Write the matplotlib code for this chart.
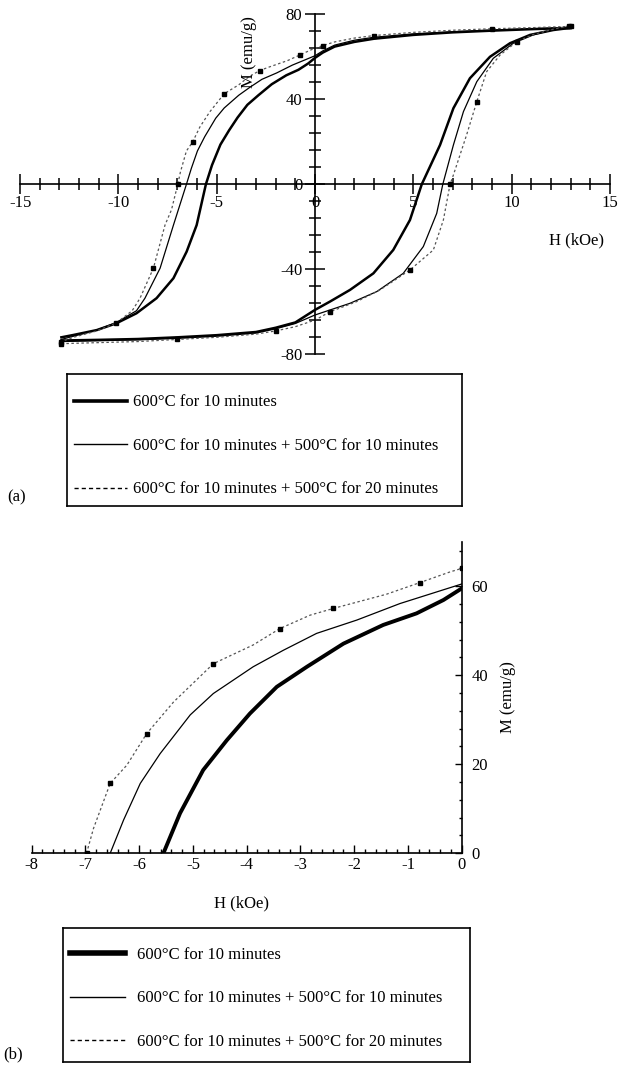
import matplotlib
matplotlib.use("Agg")
import matplotlib.pyplot as plt
from matplotlib.lines import Line2D
from matplotlib.ticker import MultipleLocator

plt.rcParams["font.family"] = "serif"
plt.rcParams["font.serif"] = ["Liberation Serif", "DejaVu Serif"]
plt.rcParams["axes.unicode_minus"] = False

LABELS = [
    "600°C for 10 minutes",
    "600°C for 10 minutes + 500°C for 10 minutes",
    "600°C for 10 minutes + 500°C for 20 minutes",
]

# ---- second quadrant of the descending branch (also panel b), H in kOe, M in emu/g
thick_b_H = [-5.55, -5.24, -4.81, -4.37, -3.94, -3.44, -2.88, -2.20, -1.46, -0.84, -0.34, 0.0]
thick_b_M = [0.0, 9.0, 18.7, 25.4, 31.4, 37.4, 41.9, 47.1, 51.3, 53.9, 56.9, 59.5]
thin_b_H = [-6.54, -6.29, -5.98, -5.61, -5.05, -4.62, -3.88, -3.32, -2.70, -1.95, -1.15, -0.47, 0.0]
thin_b_M = [0.0, 7.5, 15.7, 22.4, 31.1, 35.9, 41.9, 45.6, 49.4, 52.4, 56.1, 58.7, 60.5]
dot_b_H = [-6.98, -6.85, -6.54, -6.23, -5.86, -5.36, -4.62, -3.88, -3.38, -2.82, -2.39, -1.40, -0.78, -0.22, 0.0]
dot_b_M = [0.0, 5.6, 15.7, 19.8, 26.9, 34.0, 42.6, 46.8, 50.5, 53.5, 55.0, 58.2, 60.8, 63.2, 64.0]

# ---- descending branch, H > 0 part
thick_dpos_H = [13, 12, 11, 9, 7, 5, 3, 2, 1, 0.4]
thick_dpos_M = [73.5, 73.3, 73.0, 72.3, 71.5, 70.3, 68.5, 67.0, 64.8, 62.0]
thin_dpos_H = [13, 12, 11, 9, 7, 5, 3, 2, 1, 0.4]
thin_dpos_M = [73.8, 73.5, 73.2, 72.6, 71.8, 70.8, 69.2, 67.8, 65.5, 62.8]
dot_dpos_H = [13, 12, 11, 9, 7, 5, 3, 2, 1, 0.4]
dot_dpos_M = [74.3, 74.0, 73.7, 73.2, 72.5, 71.5, 70.0, 68.8, 67.0, 65.3]

# ---- descending branch, M < 0 part
thick_dneg_H = [-6.02, -6.53, -7.20, -8.06, -9.08, -10.10, -11.10, -12.29, -12.9]
thick_dneg_M = [-19.2, -31.7, -44.2, -53.6, -60.7, -65.4, -68.6, -70.9, -72.0]
thin_dneg_H = [-7.20, -7.88, -8.65, -9.08, -10.10, -11.10, -12.29, -12.9]
thin_dneg_M = [-19.2, -39.5, -53.6, -59.5, -65.0, -68.6, -71.5, -73.0]
dot_dneg_H = [-7.30, -7.63, -8.22, -8.90, -9.30, -10.10, -11.10, -12.29, -12.9]
dot_dneg_M = [-12.0, -19.2, -39.5, -53.6, -59.5, -65.2, -69.0, -72.0, -74.0]

# ---- ascending branch
thick_up_H = [-12.9, -11, -9, -7, -5, -3, -2, -1, 0, 0.76, 1.78, 2.97, 3.98, 4.83, 5.43,
              6.36, 7.04, 7.88, 8.90, 9.92, 10.94, 12.12, 12.9]
thick_up_M = [-73.5, -73.2, -72.8, -72.0, -71.0, -69.5, -67.5, -65.0, -59.1, -55.2, -49.7,
              -41.9, -30.9, -16.8, 0.0, 18.5, 35.8, 49.9, 60.0, 66.4, 70.3, 72.6, 73.5]
thin_up_H = [-12.9, -11, -9, -7, -5, -3, -2, -1, 0, 1.78, 3.14, 4.49, 5.51, 6.19, 6.50,
             7.04, 7.55, 8.23, 9.07, 10.09, 11.10, 12.12, 12.9]
thin_up_M = [-74.0, -73.6, -73.2, -72.5, -71.5, -70.0, -68.0, -65.5, -61.5, -56.0, -50.5,
             -41.9, -29.3, -13.7, 0.0, 18.5, 34.2, 48.3, 59.3, 66.4, 70.3, 72.8, 73.8]
dot_up_H = [-12.9, -11, -9, -7, -5, -3, -2, -1, 0, 0.76, 2.12, 3.31, 4.83, 6.02, 6.53,
            6.87, 7.04, 7.71, 8.23, 8.73, 9.41, 10.26, 11.10, 12.12, 12.9]
dot_up_M = [-75.0, -74.5, -74.0, -73.0, -72.0, -70.5, -69.0, -67.0, -63.9, -60.0, -55.2,
            -49.7, -40.3, -30.9, -16.8, 0.0, 4.4, 23.2, 38.9, 53.0, 60.8, 67.1, 70.5, 73.0, 74.5]

FS = 12


def branch(pos_H, pos_M, b_H, b_M, neg_H, neg_M):
    return pos_H + b_H[::-1] + neg_H, pos_M + b_M[::-1] + neg_M


def plot_loops(ax):
    styles = [
        dict(color="black", lw=1.8),
        dict(color="black", lw=0.9),
        dict(color="#555555", lw=0.9, ls=(0, (2, 2)), marker="s", ms=2.2,
             mfc="black", mec="black", markevery=3),
    ]
    data = [
        (thick_dpos_H, thick_dpos_M, thick_b_H, thick_b_M, thick_dneg_H, thick_dneg_M, thick_up_H, thick_up_M),
        (thin_dpos_H, thin_dpos_M, thin_b_H, thin_b_M, thin_dneg_H, thin_dneg_M, thin_up_H, thin_up_M),
        (dot_dpos_H, dot_dpos_M, dot_b_H, dot_b_M, dot_dneg_H, dot_dneg_M, dot_up_H, dot_up_M),
    ]
    for d, st in zip(data, styles):
        dH, dM = branch(*d[:6])
        ax.plot(dH, dM, **st)
        ax.plot(d[6], d[7], **st)

    ax.set_xlim(-15, 15)
    ax.set_ylim(-80, 80)
    ax.spines["left"].set_position(("data", 0))
    ax.spines["bottom"].set_position(("data", 0))
    ax.spines["right"].set_visible(False)
    ax.spines["top"].set_visible(False)
    for s in ("left", "bottom"):
        ax.spines[s].set_linewidth(1.2)
    ax.xaxis.set_major_locator(MultipleLocator(5))
    ax.xaxis.set_minor_locator(MultipleLocator(1))
    ax.yaxis.set_major_locator(MultipleLocator(40))
    ax.yaxis.set_minor_locator(MultipleLocator(8))
    ax.tick_params(which="both", direction="inout", width=1.1, labelsize=FS)
    ax.tick_params(which="major", length=14)
    ax.tick_params(which="minor", length=9)
    ax.tick_params(axis="x", pad=1)
    ax.tick_params(axis="y", pad=2)
    ax.text(-3.35, 62.3, "M (emu/g)", rotation=90, ha="center", va="center", fontsize=FS)
    ax.text(13.3, -26.2, "H (kOe)", ha="center", va="center", fontsize=FS)


def plot_zoom(ax):
    ax.plot(thick_b_H, thick_b_M, color="black", lw=2.8)
    ax.plot(thin_b_H, thin_b_M, color="black", lw=0.9)
    ax.plot(dot_b_H, dot_b_M, color="#555555", lw=0.9, ls=(0, (2, 2)),
            marker="s", ms=2.5, mfc="black", mec="black", markevery=2)
    ax.set_xlim(-8, 0)
    ax.set_ylim(0, 70)
    ax.spines["left"].set_visible(False)
    ax.spines["top"].set_visible(False)
    for s in ("right", "bottom"):
        ax.spines[s].set_linewidth(1.2)
    ax.yaxis.tick_right()
    ax.yaxis.set_label_position("right")
    ax.xaxis.set_major_locator(MultipleLocator(1))
    ax.xaxis.set_minor_locator(MultipleLocator(0.2))
    ax.yaxis.set_major_locator(MultipleLocator(20))
    ax.yaxis.set_minor_locator(MultipleLocator(4))
    ax.tick_params(which="both", direction="in", width=1.0, labelsize=FS)
    ax.tick_params(axis="x", which="major", length=6, pad=3)
    ax.tick_params(axis="x", which="minor", length=3)
    ax.tick_params(axis="y", which="major", length=5, pad=7)
    ax.tick_params(axis="y", which="minor", length=2.5)
    ax.set_xlabel("H (kOe)", fontsize=FS)
    ax.set_ylabel("M (emu/g)", fontsize=FS)
    ax.xaxis.set_label_coords(0.488, -0.135)
    ax.yaxis.set_label_coords(1.09, 0.5)


def legend_box(fig, rect, widths, hlen, htpad, yc):
    box = fig.add_axes(rect)
    box.set_xticks([])
    box.set_yticks([])
    for s in box.spines.values():
        s.set_linewidth(1.2)
    handles = [
        Line2D([], [], color="black", lw=widths[0]),
        Line2D([], [], color="black", lw=widths[1]),
        Line2D([], [], color="black", lw=1.0, ls=(0, (3, 2.2))),
    ]
    box.legend(handles, LABELS, loc="center left", bbox_to_anchor=(0, yc),
               frameon=False, fontsize=FS, handlelength=hlen, handletextpad=htpad,
               borderaxespad=0, borderpad=0.42, labelspacing=1.65)


def main():
    fig = plt.figure(figsize=(6.18, 10.65), dpi=100)
    W, Hh = 618.0, 1065.0

    ax1 = fig.add_axes([20.1 / W, 1 - 354.3 / Hh, 589.8 / W, 340 / Hh])
    plot_loops(ax1)

    legend_box(fig, [66.7 / W, 1 - 506 / Hh, 395.6 / W, 132 / Hh],
               (2.6, 1.0), 3.22, 0.32, 0.455)
    fig.text(7 / W, 1 - 497 / Hh, "(a)", fontsize=FS, va="center")

    ax2 = fig.add_axes([31.7 / W, 1 - 853.3 / Hh, 430 / W, 311.6 / Hh])
    plot_zoom(ax2)

    legend_box(fig, [63.3 / W, 1 - 1061.7 / Hh, 406.7 / W, 133.4 / Hh],
               (4.0, 1.0), 3.3, 0.7, 0.475)
    fig.text(3 / W, 1 - 1054 / Hh, "(b)", fontsize=FS, va="center")

    fig.savefig("out.png", dpi=100)


if __name__ == "__main__":
    main()
